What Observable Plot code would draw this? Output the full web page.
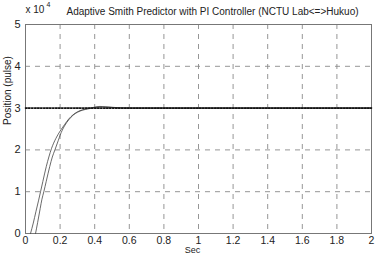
<!DOCTYPE html>
<html>
<head>
<meta charset="utf-8">
<script src="https://cdn.jsdelivr.net/npm/d3@7"></script>
<script src="https://cdn.jsdelivr.net/npm/@observablehq/plot@0.6"></script>
<style>
  html, body { margin: 0; padding: 0; background: #fff; }
  #chart svg { display: block; }
</style>
</head>
<body>
<div id="chart"></div>
<script>
// Step response of the adaptive Smith predictor (position in pulses vs. time in seconds)
const runATime = [0.029, 0.045, 0.06, 0.075, 0.087, 0.10, 0.12, 0.135, 0.15, 0.175, 0.20, 0.225, 0.25, 0.275, 0.30, 0.33, 0.36, 0.39, 0.42, 0.45, 0.50, 0.55, 0.60, 0.80, 1.20, 1.60, 2.00];
const runAPos  = [0, 2500, 5200, 7800, 10000, 12400, 16000, 18300, 20300, 22700, 24500, 26000, 27400, 28400, 29100, 29600, 29900, 30150, 30300, 30300, 30150, 30050, 30000, 30000, 30000, 30000, 30000];

const runBTime = [0.058, 0.07, 0.085, 0.095, 0.106, 0.12, 0.14, 0.155, 0.17, 0.19, 0.20, 0.225, 0.25, 0.275, 0.30, 0.33, 0.36, 0.39, 0.43, 0.46, 0.50, 0.55, 0.60, 0.80, 1.20, 1.60, 2.00];
const runBPos  = [0, 2600, 6000, 8200, 10000, 12500, 16000, 18300, 20000, 22300, 23500, 25700, 27200, 28300, 29000, 29500, 29800, 30050, 30400, 30300, 30200, 30050, 30000, 30000, 30000, 30000, 30000];

const setpointTime = [0, 2];
const setpointPos = [30000, 30000];

const xTicks = [0, 0.2, 0.4, 0.6, 0.8, 1, 1.2, 1.4, 1.6, 1.8, 2];
const yTicks = [0, 10000, 20000, 30000, 40000, 50000];

const titleText = "Adaptive Smith Predictor with PI Controller (NCTU Lab<=>Hukuo)";
const xLabel = "Sec";
const yLabel = "Position (pulse)";

const toRows = (ts, ps) => ts.map((t, i) => ({t, p: ps[i]}));
const runA = toRows(runATime, runAPos);
const runB = toRows(runBTime, runBPos);
const setpoint = toRows(setpointTime, setpointPos);

const fmtX = d => (d === 0 || d === 1 || d === 2) ? String(d) : d.toFixed(1);

const chart = Plot.plot({
  width: 375,
  height: 257,
  marginLeft: 25,
  marginRight: 4,
  marginTop: 24,
  marginBottom: 24,
  style: {fontFamily: "'Liberation Sans', Arial, sans-serif", fontSize: "11px", color: "#222", background: "#fff"},
  x: {domain: [0, 2]},
  y: {domain: [0, 50000]},
  marks: [
    Plot.gridX(xTicks, {stroke: "#8a8a8a", strokeOpacity: 1, strokeDasharray: "5,5", strokeWidth: 0.9}),
    Plot.gridY(yTicks, {stroke: "#8a8a8a", strokeOpacity: 1, strokeDasharray: "5,5", strokeWidth: 0.9}),
    Plot.frame({stroke: "#777", strokeWidth: 1}),
    Plot.axisX(xTicks, {tickSize: 0, tickPadding: 3, tickFormat: fmtX, label: null, fontSize: 10.5}),
    Plot.axisY(yTicks, {tickSize: 0, tickPadding: 5, tickFormat: d => String(d / 10000), label: null, fontSize: 11}),
    Plot.line(runA, {x: "t", y: "p", stroke: "#444", strokeWidth: 0.8, curve: "monotone-x"}),
    Plot.line(runB, {x: "t", y: "p", stroke: "#444", strokeWidth: 0.8, curve: "monotone-x"}),
    Plot.line(setpoint, {x: "t", y: "p", stroke: "#111", strokeWidth: 1.6, strokeDasharray: "1.5,1.5"}),
    Plot.text([titleText], {frameAnchor: "top", dy: -17, dx: 14, text: d => d, fontSize: 10, fill: "#222"}),
    Plot.text(["x 10"], {frameAnchor: "top-left", dy: -19, dx: 0, textAnchor: "start", text: d => d, fontSize: 10, fill: "#222"}),
    Plot.text(["4"], {frameAnchor: "top-left", dy: -22, dx: 21, textAnchor: "start", text: d => d, fontSize: 7, fill: "#222"}),
    Plot.text([xLabel], {frameAnchor: "bottom", dy: 19.5, dx: -6, text: d => d, fontSize: 9, fill: "#222"}),
    Plot.text([yLabel], {frameAnchor: "left", dx: -18, dy: -4, rotate: -90, text: d => d, fontSize: 10, fill: "#222"})
  ]
});
document.getElementById("chart").appendChild(chart);
</script>
</body>
</html>
